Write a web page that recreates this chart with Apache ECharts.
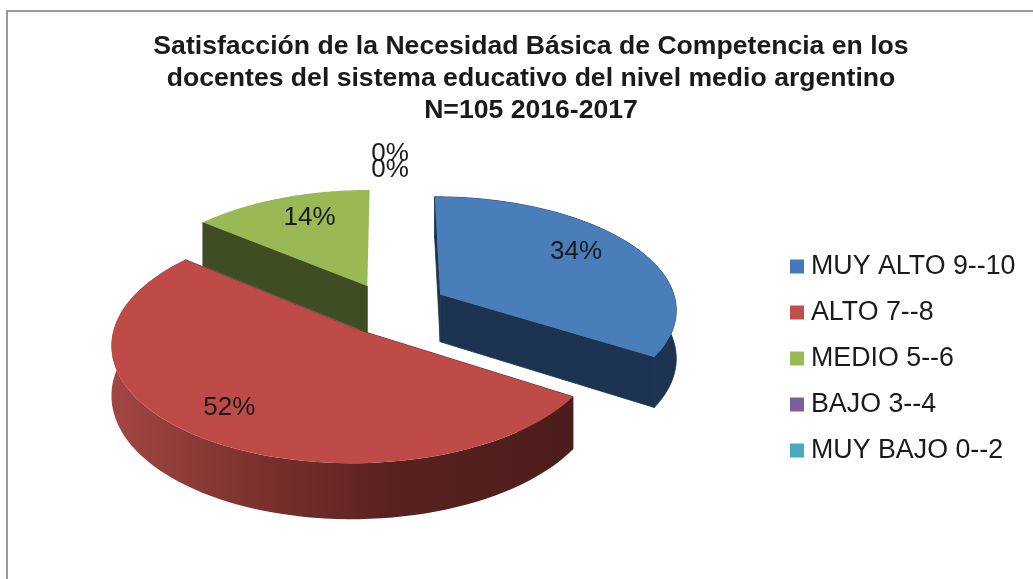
<!DOCTYPE html>
<html>
<head>
<meta charset="utf-8">
<script src="https://cdn.jsdelivr.net/npm/echarts@6/dist/echarts.min.js"></script>
<style>html,body{margin:0;padding:0;background:#fff}#c{width:1033px;height:579px}</style>
</head>
<body>
<div id="c"></div>
<script>
const titleLines = [
  'Satisfacción de la Necesidad Básica de Competencia en los',
  'docentes del sistema educativo del nivel medio argentino',
  'N=105 2016-2017'
];
const categories = ['MUY ALTO 9--10', 'ALTO 7--8', 'MEDIO 5--6', 'BAJO 3--4', 'MUY BAJO 0--2'];
const percentages = [34, 52, 14, 0, 0];

const topColors = ['#4a7ebb', '#be4b48', '#98b954', '#7d5fa0', '#46aac5'];
const legendColors = ['#4678bd', '#c0504d', '#98b954', '#7d5fa0', '#46aac5'];
const sideColors = ['#1c3351', '#7a2f2c', '#3f4d22', '#3f2f50', '#235562'];

// 3D-pie projection of a unit disc onto the page
const view = { cx: 389, cy: 307.8, A: 237, B: 112.4, k: 0.12, depth: 48 };
const explode = [0.25, 0.23, 0.22, 0.22, 0.22];
const labelPlace = [
  { r: 0.70, dx: 0, dy: -7 },
  { r: 0.79, dx: -2, dy: -3 },
  { r: 0.70, dx: 5, dy: -5 },
  { r: 1.43, dx: 1, dy: 1 },
  { r: 1.24, dx: 1, dy: 2 }
];

function project(x, y, drop) {
  const f = 1 / (1 - view.k * y);
  return [view.cx + view.A * x * f, view.cy + view.B * y * f + (drop ? view.depth * f : 0)];
}

const total = percentages.reduce((a, b) => a + b, 0);
const starts = [];
percentages.reduce((acc, v, i) => { starts[i] = acc; return acc + v; }, 0);

function renderSlice(idx) {
  return function (params, api) {
    const value = api.value(0);
    const a0 = starts[idx] / total * 2 * Math.PI;
    const a1 = (starts[idx] + value) / total * 2 * Math.PI;
    const mid = (a0 + a1) / 2;
    const ox = explode[idx] * Math.sin(mid);
    const oy = -explode[idx] * Math.cos(mid);
    const disc = (a, r) => [ox + r * Math.sin(a), oy - r * Math.cos(a)];
    const children = [];
    if (value > 0) {
      const arc = [];
      const n = 80;
      for (let i = 0; i <= n; i++) arc.push(disc(a0 + (a1 - a0) * i / n, 1));
      const apexTop = project(ox, oy, false);
      const apexBot = project(ox, oy, true);
      const arcTop = arc.map(p => project(p[0], p[1], false));
      const arcBot = arc.map(p => project(p[0], p[1], true));
      const side = idx === 1
        ? new echarts.graphic.LinearGradient(0, 0, 1, 0, [
            { offset: 0, color: '#a34642' },
            { offset: 0.3, color: '#7d322e' },
            { offset: 0.6, color: '#592220' },
            { offset: 1, color: '#4c1d1b' }
          ])
        : sideColors[idx];
      const flat = idx === 1 ? '#4c1d1b' : sideColors[idx];
      const seam = { stroke: flat, lineWidth: 0.8 };
      const backSlice = idx === 2; // its end face and rim point away from the viewer
      // radial faces
      children.push({ type: 'polygon', shape: { points: [apexTop, arcTop[0], arcBot[0], apexBot] }, style: Object.assign({ fill: flat }, seam) });
      if (!backSlice) {
        children.push({ type: 'polygon', shape: { points: [apexTop, arcTop[n], arcBot[n], apexBot] }, style: Object.assign({ fill: flat }, seam) });
        // outer rim
        children.push({ type: 'polygon', shape: { points: arcTop.concat(arcBot.slice().reverse()) }, style: idx === 1 ? { fill: side } : Object.assign({ fill: side }, seam) });
      }
      // top face
      children.push({ type: 'polygon', shape: { points: [apexTop].concat(arcTop) }, style: { fill: topColors[idx] } });
    }
    const lp = labelPlace[idx];
    const q = project(ox + lp.r * Math.sin(mid), oy - lp.r * Math.cos(mid), false);
    children.push({
      type: 'text',
      z2: 10,
      style: {
        x: q[0] + lp.dx, y: q[1] + lp.dy,
        text: value + '%',
        fill: '#1a1a1a',
        font: '26px "Liberation Sans"',
        align: 'center', verticalAlign: 'middle'
      }
    });
    return { type: 'group', children };
  };
}

const drawOrder = { 2: 1, 0: 2, 1: 3, 3: 4, 4: 5 };

const option = {
  animation: false,
  backgroundColor: '#ffffff',
  title: {
    text: titleLines.join('\n'),
    left: 526, top: 26,
    textAlign: 'center',
    textStyle: { fontFamily: 'Liberation Sans', fontWeight: 'bold', fontSize: 26.6, lineHeight: 32, color: '#1a1a1a' }
  },
  legend: {
    orient: 'vertical',
    left: 785, top: 247,
    icon: 'rect',
    itemWidth: 14, itemHeight: 14,
    itemGap: 17,
    data: categories,
    selectedMode: false,
    textStyle: { fontFamily: 'Liberation Sans', fontSize: 26.8, color: '#1a1a1a', lineHeight: 29, padding: [0,0,0,2] }
  },
  graphic: [{
    type: 'polyline',
    silent: true,
    shape: { points: [[7, 579], [7, 11], [1033, 11]] },
    style: { stroke: '#9a9a9a', lineWidth: 2, fill: null }
  }],
  series: categories.map((name, i) => ({
    type: 'custom',
    name,
    z: drawOrder[i],
    coordinateSystem: 'none',
    itemStyle: { color: legendColors[i] },
    data: [[percentages[i]]],
    renderItem: renderSlice(i)
  }))
};
echarts.init(document.getElementById('c')).setOption(option);
</script>
</body>
</html>
